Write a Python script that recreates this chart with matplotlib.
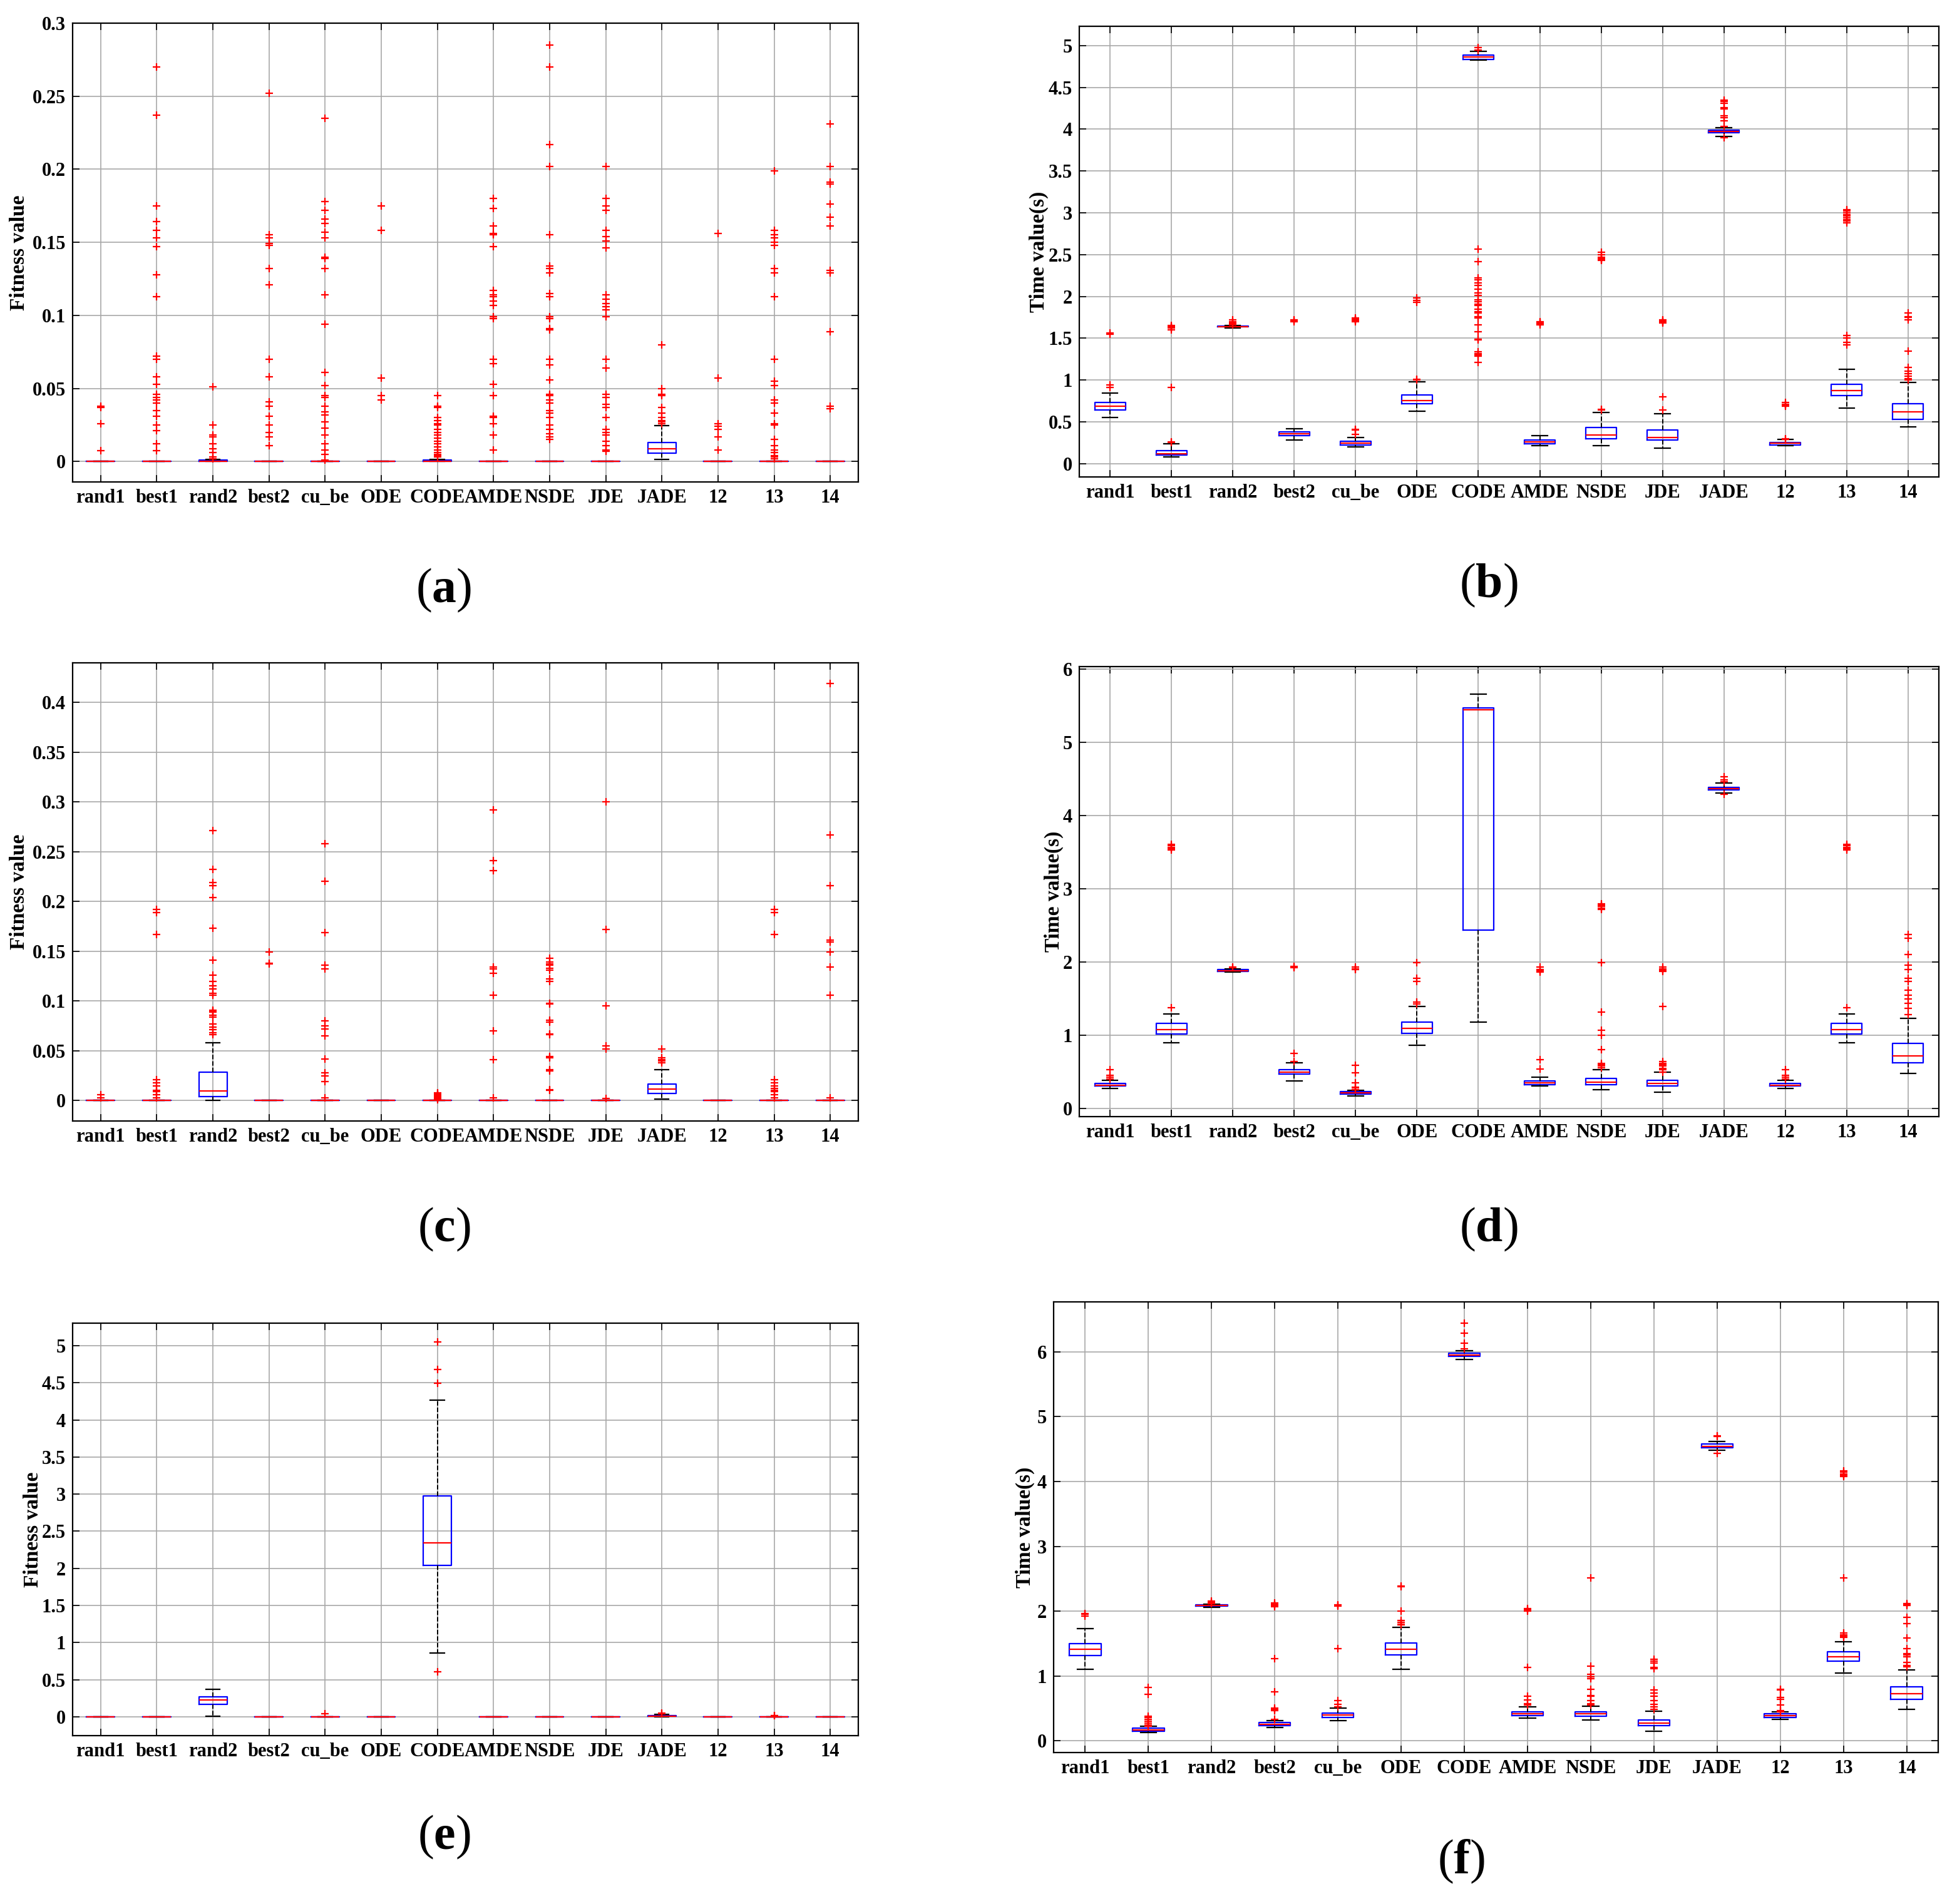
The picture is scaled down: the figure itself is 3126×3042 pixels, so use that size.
import matplotlib

matplotlib.use("Agg")  # headless rendering
import matplotlib.pyplot as plt
from matplotlib.ticker import FuncFormatter, MultipleLocator

plt.rcParams["font.family"] = ["Liberation Serif", "DejaVu Serif"]
plt.rcParams["mathtext.fontset"] = "custom"
plt.rcParams["mathtext.rm"] = "Liberation Serif"
plt.rcParams["mathtext.bf"] = "Liberation Serif:bold"

ALGOS = ["rand1", "best1", "rand2", "best2", "cu_be", "ODE", "CODE",
         "AMDE", "NSDE", "JDE", "JADE", "12", "13", "14"]

# ---- (a) fitness ----
A_Q1 = [0, 0, 0, 0, 0, 0, 0, 0, 0, 0, 0.0056, 0, 0, 0]
A_MED = [0, 0, 0.0003, 0, 0, 0, 0.0003, 0, 0, 0, 0.0086, 0, 0, 0]
A_Q3 = [0, 0, 0.0008, 0, 0, 0, 0.0008, 0, 0, 0, 0.0131, 0, 0, 0]
A_LO = [0, 0, 0, 0, 0, 0, 0, 0, 0, 0, 0.0016, 0, 0, 0]
A_HI = [0, 0, 0.0015, 0, 0, 0, 0.0015, 0, 0, 0, 0.0247, 0, 0, 0]
A_OUT = [
    [0.038, 0.037, 0.026, 0.0075],
    [0.27, 0.237, 0.175, 0.164, 0.158, 0.153, 0.147, 0.128, 0.113, 0.072, 0.070, 0.058, 0.053,
     0.046, 0.044, 0.042, 0.040, 0.035, 0.031, 0.025, 0.021, 0.012, 0.0075],
    [0.051, 0.025, 0.018, 0.017, 0.012, 0.0085, 0.006, 0.003, 0.002],
    [0.252, 0.155, 0.153, 0.149, 0.148, 0.132, 0.121, 0.070, 0.058, 0.041, 0.038, 0.031, 0.025,
     0.020, 0.017, 0.011],
    [0.235, 0.178, 0.172, 0.166, 0.163, 0.157, 0.153, 0.140, 0.139, 0.132, 0.114, 0.094, 0.061,
     0.052, 0.045, 0.044, 0.038, 0.034, 0.032, 0.027, 0.023, 0.018, 0.012, 0.008, 0.005, 0.001],
    [0.175, 0.158, 0.057, 0.045, 0.042],
    [0.045, 0.038, 0.037, 0.030, 0.028, 0.026, 0.025, 0.022, 0.020, 0.018, 0.016, 0.014, 0.012,
     0.010, 0.008, 0.006, 0.005, 0.004, 0.003],
    [0.180, 0.173, 0.161, 0.156, 0.155, 0.147, 0.117, 0.114, 0.113, 0.110, 0.107, 0.099, 0.098,
     0.070, 0.067, 0.053, 0.045, 0.031, 0.030, 0.026, 0.018, 0.008],
    [0.285, 0.27, 0.217, 0.202, 0.155, 0.134, 0.132, 0.129, 0.115, 0.113, 0.099, 0.098, 0.091,
     0.090, 0.070, 0.066, 0.056, 0.046, 0.045, 0.042, 0.040, 0.035, 0.033, 0.030, 0.025, 0.022,
     0.019, 0.017, 0.015],
    [0.202, 0.180, 0.175, 0.172, 0.158, 0.154, 0.151, 0.146, 0.114, 0.111, 0.108, 0.106, 0.104,
     0.099, 0.070, 0.064, 0.046, 0.044, 0.039, 0.037, 0.030, 0.022, 0.020, 0.018, 0.014, 0.011,
     0.008, 0.007],
    [0.080, 0.050, 0.046, 0.045, 0.037, 0.033, 0.030, 0.028, 0.027, 0.026],
    [0.156, 0.057, 0.026, 0.024, 0.022, 0.017, 0.008],
    [0.199, 0.158, 0.155, 0.153, 0.150, 0.148, 0.132, 0.129, 0.113, 0.070, 0.055, 0.052, 0.042,
     0.040, 0.033, 0.026, 0.025, 0.015, 0.011, 0.008, 0.006, 0.004, 0.003, 0.002],
    [0.231, 0.202, 0.191, 0.190, 0.176, 0.167, 0.161, 0.131, 0.129, 0.089, 0.038, 0.036],
]

# ---- (b) time ----
B_Q1 = [0.642, 0.106, 1.635, 0.337, 0.223, 0.715, 4.838, 0.240, 0.297, 0.280, 3.955, 0.227, 0.812, 0.532]
B_MED = [0.686, 0.122, 1.642, 0.361, 0.248, 0.755, 4.866, 0.264, 0.345, 0.317, 3.970, 0.244, 0.877, 0.617]
B_Q3 = [0.735, 0.158, 1.648, 0.378, 0.272, 0.820, 4.886, 0.284, 0.435, 0.406, 3.990, 0.256, 0.950, 0.719]
B_LO = [0.552, 0.085, 1.625, 0.284, 0.203, 0.630, 4.825, 0.215, 0.219, 0.183, 3.910, 0.215, 0.662, 0.443]
B_HI = [0.845, 0.236, 1.655, 0.418, 0.313, 0.983, 4.930, 0.337, 0.613, 0.597, 4.020, 0.288, 1.129, 0.975]
B_OUT = [
    [0.94, 0.91, 1.56, 1.55],
    [0.26, 0.25, 0.91, 1.60, 1.62, 1.63, 1.64, 1.65],
    [1.66, 1.67, 1.68, 1.70, 1.72],
    [1.70, 1.71, 1.72],
    [0.35, 0.40, 0.41, 1.70, 1.71, 1.72, 1.73, 1.74],
    [1.00, 1.01, 1.93, 1.95, 1.98],
    [4.98, 4.95, 2.57, 2.42, 2.22, 2.20, 2.16, 2.13, 2.09, 2.04, 2.01, 1.96, 1.94, 1.91, 1.89,
     1.85, 1.82, 1.80, 1.76, 1.74, 1.66, 1.58, 1.49, 1.48, 1.34, 1.32, 1.30, 1.29, 1.21],
    [1.66, 1.67, 1.68, 1.69, 1.70],
    [0.64, 0.65, 2.43, 2.44, 2.45, 2.46, 2.47, 2.50, 2.53],
    [0.64, 0.80, 1.68, 1.69, 1.70, 1.71, 1.72],
    [4.35, 4.33, 4.31, 4.26, 4.24, 4.16, 4.14, 4.10, 4.03, 3.90],
    [0.29, 0.30, 0.69, 0.70, 0.71, 0.73],
    [1.42, 1.45, 1.50, 1.53, 2.88, 2.90, 2.92, 2.94, 2.96, 2.97, 2.98, 3.00, 3.02, 3.04],
    [1.00, 1.02, 1.05, 1.08, 1.11, 1.15, 1.35, 1.72, 1.75, 1.76, 1.80],
]

# ---- (c) fitness ----
C_Q1 = [0, 0, 0.0041, 0, 0, 0, 0, 0, 0, 0, 0.0072, 0, 0, 0]
C_MED = [0, 0, 0.0096, 0, 0, 0, 0, 0, 0, 0, 0.0113, 0, 0, 0]
C_Q3 = [0, 0, 0.0284, 0, 0, 0, 0, 0, 0, 0, 0.0168, 0, 0, 0]
C_LO = [0, 0, 0, 0, 0, 0, 0, 0, 0, 0, 0.0014, 0, 0, 0]
C_HI = [0, 0, 0.0578, 0, 0, 0, 0, 0, 0, 0, 0.0311, 0, 0, 0]
C_OUT = [
    [0.006, 0.003],
    [0.192, 0.189, 0.167, 0.021, 0.018, 0.015, 0.010, 0.009, 0.006, 0.003],
    [0.271, 0.232, 0.219, 0.216, 0.204, 0.173, 0.141, 0.126, 0.120, 0.115, 0.112, 0.108, 0.106,
     0.091, 0.090, 0.089, 0.086, 0.084, 0.077, 0.074, 0.071, 0.068, 0.066],
    [0.149, 0.138, 0.137],
    [0.258, 0.220, 0.169, 0.136, 0.132, 0.080, 0.075, 0.072, 0.065, 0.042, 0.028, 0.025, 0.019, 0.003],
    [],
    [0.008, 0.007, 0.006, 0.005, 0.004, 0.003, 0.002, 0.001],
    [0.292, 0.241, 0.231, 0.134, 0.132, 0.128, 0.106, 0.070, 0.041, 0.003],
    [0.143, 0.139, 0.137, 0.136, 0.133, 0.131, 0.122, 0.120, 0.098, 0.097, 0.081, 0.079, 0.067,
     0.066, 0.044, 0.043, 0.031, 0.030, 0.011, 0.010],
    [0.300, 0.172, 0.095, 0.055, 0.052, 0.002],
    [0.052, 0.043, 0.041, 0.040, 0.038],
    [],
    [0.192, 0.189, 0.167, 0.021, 0.018, 0.015, 0.012, 0.010, 0.009, 0.006, 0.003],
    [0.419, 0.267, 0.216, 0.161, 0.159, 0.149, 0.134, 0.106, 0.003],
]

# ---- (d) time ----
D_Q1 = [0.306, 1.021, 1.870, 0.469, 0.195, 1.026, 2.436, 0.325, 0.329, 0.306, 4.350, 0.306, 1.021, 0.622]
D_MED = [0.320, 1.081, 1.880, 0.497, 0.213, 1.095, 5.443, 0.348, 0.362, 0.339, 4.370, 0.320, 1.081, 0.719]
D_Q3 = [0.339, 1.160, 1.895, 0.534, 0.227, 1.183, 5.471, 0.376, 0.413, 0.385, 4.390, 0.339, 1.160, 0.891]
D_LO = [0.278, 0.900, 1.860, 0.380, 0.167, 0.863, 1.183, 0.306, 0.260, 0.223, 4.310, 0.278, 0.900, 0.483]
D_HI = [0.385, 1.290, 1.905, 0.622, 0.246, 1.392, 5.657, 0.427, 0.529, 0.497, 4.445, 0.385, 1.290, 1.230]
D_OUT = [
    [0.40, 0.43, 0.45, 0.53],
    [1.38, 3.53, 3.55, 3.57, 3.59, 3.61],
    [1.92, 1.93],
    [0.64, 0.75, 1.92, 1.93, 1.94],
    [0.26, 0.28, 0.29, 0.35, 0.49, 0.59, 1.90, 1.91, 1.93],
    [1.43, 1.45, 1.74, 1.78, 1.99],
    [],
    [0.54, 0.67, 1.86, 1.88, 1.90, 1.93],
    [0.56, 0.58, 0.60, 0.62, 0.80, 1.00, 1.07, 1.32, 1.99, 2.72, 2.74, 2.76, 2.78, 2.80],
    [0.50, 0.53, 0.55, 0.58, 0.60, 0.62, 0.64, 1.39, 1.87, 1.89, 1.91, 1.93],
    [4.46, 4.49, 4.53, 4.29],
    [0.40, 0.43, 0.45, 0.53],
    [1.38, 3.53, 3.55, 3.57, 3.59, 3.61],
    [1.28, 1.37, 1.44, 1.50, 1.55, 1.62, 1.74, 1.78, 1.90, 1.96, 2.10, 2.33, 2.38],
]

# ---- (e) fitness ----
E_Q1 = [0, 0, 0.170, 0, 0, 0, 2.043, 0, 0, 0, 0.005, 0, 0, 0]
E_MED = [0, 0, 0.230, 0, 0, 0, 2.342, 0, 0, 0, 0.010, 0, 0, 0]
E_Q3 = [0, 0, 0.271, 0, 0, 0, 2.975, 0, 0, 0, 0.020, 0, 0, 0]
E_LO = [0, 0, 0.010, 0, 0, 0, 0.859, 0, 0, 0, 0, 0, 0, 0]
E_HI = [0, 0, 0.372, 0, 0, 0, 4.270, 0, 0, 0, 0.030, 0, 0, 0]
E_OUT = [
    [], [], [], [], [0.045], [],
    [5.05, 4.68, 4.49, 0.61],
    [], [], [],
    [0.04, 0.05],
    [],
    [0.015, 0.02],
    [],
]

# ---- (f) time ----
F_Q1 = [1.316, 0.146, 2.075, 0.238, 0.363, 1.327, 5.930, 0.395, 0.384, 0.233, 4.516, 0.363, 1.229, 0.644]
F_MED = [1.413, 0.173, 2.085, 0.260, 0.400, 1.413, 5.951, 0.422, 0.417, 0.276, 4.543, 0.395, 1.294, 0.726]
F_Q3 = [1.500, 0.200, 2.095, 0.282, 0.428, 1.510, 5.973, 0.449, 0.444, 0.325, 4.576, 0.422, 1.375, 0.834]
F_LO = [1.105, 0.125, 2.060, 0.211, 0.314, 1.105, 5.886, 0.352, 0.319, 0.152, 4.484, 0.336, 1.050, 0.487]
F_HI = [1.733, 0.222, 2.110, 0.314, 0.504, 1.749, 6.016, 0.525, 0.536, 0.460, 4.619, 0.449, 1.532, 1.099]
F_OUT = [
    [1.92, 1.95, 1.96],
    [0.23, 0.25, 0.27, 0.30, 0.33, 0.36, 0.38, 0.72, 0.82],
    [2.12, 2.14, 2.16],
    [0.33, 0.47, 0.49, 0.51, 0.76, 1.27, 2.07, 2.09, 2.11, 2.13],
    [0.53, 0.56, 0.62, 1.42, 2.08, 2.09, 2.10],
    [1.79, 1.80, 1.83, 1.86, 2.00, 2.38, 2.39],
    [6.05, 6.13, 6.29, 6.44],
    [0.55, 0.57, 0.63, 0.69, 1.13, 2.00, 2.02, 2.04],
    [0.55, 0.57, 0.62, 0.69, 0.70, 0.80, 0.96, 0.99, 1.03, 1.15, 2.51],
    [0.49, 0.53, 0.56, 0.62, 0.69, 0.74, 0.79, 1.11, 1.13, 1.20, 1.23, 1.26],
    [4.43, 4.69, 4.70],
    [0.45, 0.47, 0.55, 0.64, 0.67, 0.79, 0.80],
    [1.60, 1.62, 1.64, 1.66, 2.51, 4.08, 4.10, 4.12, 4.14, 4.16],
    [1.14, 1.16, 1.21, 1.30, 1.33, 1.35, 1.42, 1.59, 1.81, 1.91, 2.09, 2.10, 2.12],
]

W, H = 3126, 3042
DPI = 200


def box_stats(q1, med, q3, lo, hi, out):
    return [
        dict(label=n, q1=a, med=m, q3=b, whislo=l, whishi=h, fliers=f)
        for n, a, m, b, l, h, f in zip(ALGOS, q1, med, q3, lo, hi, out)
    ]


def draw_panel(fig, rect_px, stats, ylim, step, ylabel, ylabel_x, letter, letter_xy):
    left, top, right, bottom = rect_px
    ax = fig.add_axes([left / W, 1 - bottom / H, (right - left) / W, (bottom - top) / H])
    ax.bxp(
        stats,
        positions=range(1, len(stats) + 1),
        widths=0.5,
        capwidths=0.25,
        boxprops=dict(color="blue", linewidth=0.8),
        medianprops=dict(color="red", linewidth=0.8),
        whiskerprops=dict(color="black", linestyle="--", linewidth=0.7),
        capprops=dict(color="black", linewidth=0.8),
        flierprops=dict(marker="+", markeredgecolor="red", markersize=4.5,
                        markeredgewidth=0.8, linestyle="none"),
    )
    ax.set_xlim(0.5, len(stats) + 0.5)
    ax.set_ylim(*ylim)
    ax.yaxis.set_major_locator(MultipleLocator(step))
    ax.yaxis.set_major_formatter(FuncFormatter(lambda v, _: f"{v:g}"))
    ax.set_xticks(range(1, len(stats) + 1))
    ax.set_xticklabels(ALGOS)
    ax.grid(True, color="#a8a8a8", linewidth=0.6)
    ax.set_axisbelow(True)
    ax.tick_params(direction="in", top=True, right=True, length=4, width=0.6,
                   labelsize=11, pad=4)
    for lab in ax.get_xticklabels() + ax.get_yticklabels():
        lab.set_fontweight("bold")
    for sp in ax.spines.values():
        sp.set_linewidth(0.8)
    ax.set_ylabel(ylabel, fontsize=12, fontweight="bold", va="center")
    ax.yaxis.set_label_coords((ylabel_x - left) / (right - left), 0.5)
    fig.text(letter_xy[0] / W, 1 - letter_xy[1] / H,
             r"$\mathrm{(}\mathbf{%s}\mathrm{)}$" % letter,
             fontsize=28, ha="center", va="center")
    return ax


fig = plt.figure(figsize=(W / DPI, H / DPI), dpi=DPI)

draw_panel(fig, (116, 37, 1371, 770), box_stats(A_Q1, A_MED, A_Q3, A_LO, A_HI, A_OUT),
           (-0.014, 0.3), 0.05, "Fitness value", 30, "a", (709, 943))
draw_panel(fig, (1724, 42, 3097, 762), box_stats(B_Q1, B_MED, B_Q3, B_LO, B_HI, B_OUT),
           (-0.158, 5.231), 0.5, "Time value(s)", 1659, "b", (2378, 935))
draw_panel(fig, (116, 1059, 1371, 1791), box_stats(C_Q1, C_MED, C_Q3, C_LO, C_HI, C_OUT),
           (-0.0205, 0.4397), 0.05, "Fitness value", 30, "c", (709, 1964))
draw_panel(fig, (1724, 1065, 3097, 1784), box_stats(D_Q1, D_MED, D_Q3, D_LO, D_HI, D_OUT),
           (-0.111, 6.037), 1, "Time value(s)", 1683, "d", (2378, 1964))
draw_panel(fig, (116, 2114, 1371, 2773), box_stats(E_Q1, E_MED, E_Q3, E_LO, E_HI, E_OUT),
           (-0.253, 5.303), 0.5, "Fitness value", 52, "e", (709, 2935))
draw_panel(fig, (1683, 2080, 3096, 2800), box_stats(F_Q1, F_MED, F_Q3, F_LO, F_HI, F_OUT),
           (-0.179, 6.769), 1, "Time value(s)", 1637, "f", (2334, 2974))

fig.savefig("out.png", dpi=DPI)
plt.close(fig)
